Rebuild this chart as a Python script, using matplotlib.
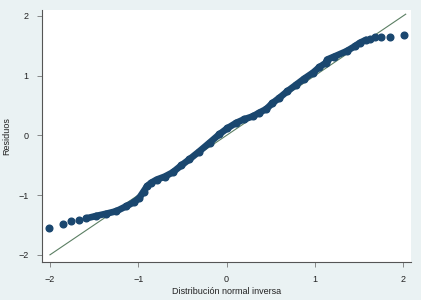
import matplotlib
matplotlib.use('Agg')
import numpy as np
import matplotlib.pyplot as plt

# cuantiles normales (eje x) y residuos ordenados (eje y)
normal_q = [-2.01, -1.85, -1.76, -1.67, -1.59, -1.48, -1.36, -1.25, -1.14, -1.05,
            -0.99, -0.94, -0.90, -0.85, -0.79, -0.70, -0.61, -0.51, -0.42, -0.31,
            -0.19, -0.08, 0.01, 0.11, 0.20, 0.30, 0.37, 0.45, 0.52, 0.60,
            0.69, 0.79, 0.88, 0.98, 1.05, 1.13, 1.14, 1.22, 1.36, 1.45,
            1.51, 1.58, 1.62, 1.68, 1.75, 1.85, 2.01]
residuos = [-1.55, -1.49, -1.44, -1.42, -1.39, -1.35, -1.31, -1.27, -1.19, -1.12,
            -1.05, -0.94, -0.85, -0.79, -0.74, -0.69, -0.62, -0.50, -0.40, -0.27,
            -0.12, 0.02, 0.12, 0.21, 0.27, 0.32, 0.38, 0.44, 0.54, 0.63,
            0.74, 0.85, 0.95, 1.05, 1.14, 1.22, 1.27, 1.32, 1.41, 1.49,
            1.55, 1.60, 1.62, 1.64, 1.65, 1.65, 1.68]
ref_x = [-2.0, 2.03]
x_ticks = [-2, -1, 0, 1, 2]
y_ticks = [-2, -1, 0, 1, 2]

plt.rcParams['font.family'] = ['Liberation Sans', 'DejaVu Sans']
navy = '#1a476f'
bg = '#eaf2f3'

fig = plt.figure(figsize=(4.21, 3.0), dpi=100, facecolor=bg)
ax = fig.add_axes([42 / 421, 38 / 300, 369 / 421, 252 / 300])
ax.set_facecolor('white')

# linea de referencia (debajo de los puntos)
ax.plot(ref_x, ref_x, color='#5b7f63', lw=0.8, zorder=1)
# tramo denso: banda gruesa que une los puntos
ax.plot(normal_q[4:-5], residuos[4:-5], color=navy, lw=4.8,
        solid_capstyle='round', solid_joinstyle='round', zorder=2)
ax.plot(normal_q, residuos, 'o', color=navy, ms=4.8, mec=navy, zorder=3)

ax.set_xlim(-2.09, 2.09)
ax.set_ylim(-2.12, 2.1)
ax.set_xticks(x_ticks)
ax.set_yticks(y_ticks)
ax.set_xticklabels([str(v).replace('-', '\u2212') for v in x_ticks])
ax.set_yticklabels([str(v).replace('-', '\u2212') for v in y_ticks])
ax.tick_params(direction='out', length=3.5, width=0.6, color='#777777',
               labelsize=6.5, labelcolor='#222222', pad=6)
for s in ['top', 'right']:
    ax.spines[s].set_visible(False)
for s in ['left', 'bottom']:
    ax.spines[s].set_color('#555555')
    ax.spines[s].set_linewidth(0.8)

fig.text(227 / 421, 1 - 291 / 300, 'Distribución normal inversa', fontsize=6.5,
         color='#222222', ha='center', va='center')
fig.text(7 / 421, 1 - 136 / 300, 'Residuos', fontsize=6.5, color='#222222',
         ha='center', va='center', rotation=90)

fig.savefig('out.png', dpi=100, facecolor=bg)
plt.close()
